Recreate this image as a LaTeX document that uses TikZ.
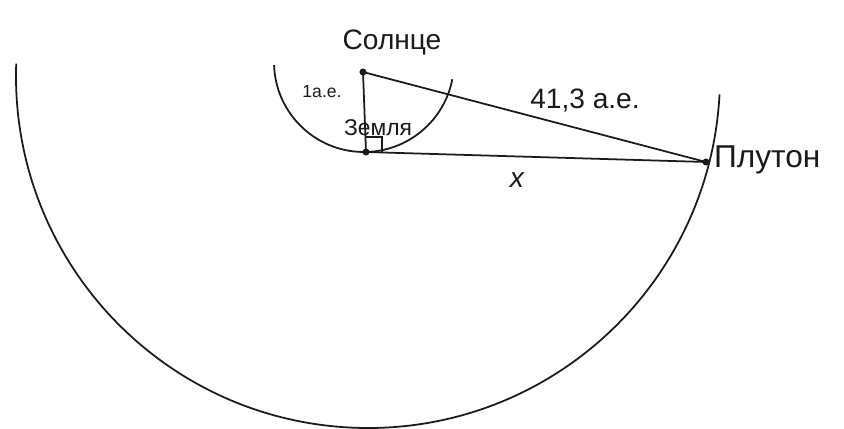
\documentclass[tikz,border=0pt]{standalone}
\usepackage{fontspec}
\setmainfont{Liberation Sans}
\usepackage{tikz}
\usetikzlibrary{calc,positioning}
\definecolor{cInk}{HTML}{1A1A1A}
\tikzset{
  orbit/.style = {draw=cInk, line width=1pt},
  ray/.style   = {draw=cInk, line width=1pt},
  pt/.style    = {circle, fill=cInk, inner sep=0pt, minimum size=4pt},
  lab/.style   = {text=cInk, inner sep=1pt},
}

\begin{document}
\begin{tikzpicture}
  \useasboundingbox (0,0) rectangle (16.88,8.56);

  \coordinate (orbC) at (7.36,7.04);
  \coordinate (sunC) at (7.28,7.32);

  \node[pt] (sun) at (7.26,7.12) {};
  \node[pt] (earth) at (7.32,5.52) {};
  \node[pt] (pluto) at (14.12,5.32) {};

  % orbits
  \draw[orbit] (orbC) ++(178:7.04) arc[start angle=178, end angle=357, radius=7.04];
  \draw[orbit] (sunC) ++(182:1.8) arc[start angle=182, end angle=349, radius=1.8];

  % triangle
  \draw[ray] (sun.center) -- (earth.center);
  \draw[ray] (sun.center) -- (pluto.center);
  \draw[ray] (earth.center) -- (pluto.center);
  \draw[ray, line width=0.8pt] ($(earth.center)+(0,0.3)$) -| ($(earth.center)+(0.32,0)$);

  \node[lab, font=\fontsize{16}{18}\selectfont] (tsun) at (7.84,7.72) {Солнце};
  \node[lab, font=\fontsize{10}{12}\selectfont] (tau) at (6.44,6.72) {1а.е.};
  \node[lab, font=\fontsize{13}{15}\selectfont] (tearth) at (7.56,6.0) {Земля};
  \node[lab, font=\fontsize{16}{18}\selectfont] (tdist) at (11.7,6.56) {41,3 а.е.};
  \node[lab, font=\fontsize{16}{18}\selectfont\itshape] (tx) at (10.34,4.96) {x};
  \node[lab, font=\fontsize{18}{20}\selectfont, anchor=west] (tpluto) at (14.24,5.36) {Плутон};
\end{tikzpicture}
\end{document}
